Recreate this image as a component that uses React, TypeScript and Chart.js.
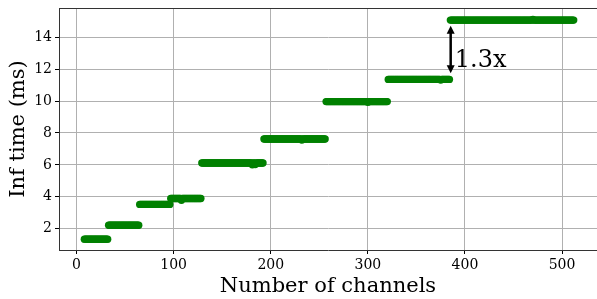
import React, { useEffect, useRef } from "react";
import { Chart, registerables } from "chart.js";

Chart.register(...registerables);

// Step segments (channel ranges) and their inference time levels (ms)
const segStarts = [8, 33, 65, 97, 129, 193, 257, 321, 385];
const segEnds = [32, 64, 96, 128, 192, 256, 320, 384, 512];
const segLevels = [1.34, 2.21, 3.52, 3.89, 6.12, 7.62, 9.97, 11.36, 15.08];
// A few visibly deviating measurements [channels, ms]
const deviations: [number, number][] = [
  [108, 3.78],
  [181, 6.0],
  [184, 6.02],
  [232, 7.56],
  [300, 9.93],
  [375, 11.32],
  [470, 15.12],
];

const xTicks = [0, 100, 200, 300, 400, 500];
const yTicks = [2, 4, 6, 8, 10, 12, 14];

const arrowX = 385.3;
const arrowFrom = 11.75;
const arrowTo = 14.72;
const ratioLabel = "1.3x";
const ratioLabelX = 389.5;
const ratioLabelY = 12.17;

function buildPoints() {
  const dev = new Map(deviations.map(([x, y]) => [x, y]));
  const pts: { x: number; y: number }[] = [];
  segStarts.forEach((s, i) => {
    for (let c = s; c <= segEnds[i]; c++) {
      pts.push({ x: c, y: dev.has(c) ? (dev.get(c) as number) : segLevels[i] });
    }
  });
  return pts;
}

const FONT = "'DejaVu Serif', serif";

function zeroPad(s: any) {
  s.paddingTop = 0;
  s.paddingBottom = 0;
  s.paddingLeft = 0;
  s.paddingRight = 0;
}

export default function App() {
  const ref = useRef<HTMLCanvasElement>(null);
  useEffect(() => {
    if (!ref.current) return;
    const annot = {
      id: "annot",
      afterDatasetsDraw(chart: any) {
        const { ctx, chartArea, scales } = chart;
        const xs = scales.x, ys = scales.y;
        ctx.save();
        // top spine
        ctx.strokeStyle = "#333";
        ctx.lineWidth = 1;
        ctx.beginPath();
        ctx.moveTo(chartArea.left, chartArea.top + 0.5);
        ctx.lineTo(chartArea.right, chartArea.top + 0.5);
        ctx.stroke();
        // double arrow
        const ax = xs.getPixelForValue(arrowX);
        const y1 = ys.getPixelForValue(arrowFrom);
        const y2 = ys.getPixelForValue(arrowTo);
        const hl = 8, hw = 4;
        ctx.strokeStyle = "#000";
        ctx.fillStyle = "#000";
        ctx.lineWidth = 2.5;
        ctx.beginPath();
        ctx.moveTo(ax, y1 - hl + 1);
        ctx.lineTo(ax, y2 + hl - 1);
        ctx.stroke();
        ctx.beginPath();
        ctx.moveTo(ax, y2);
        ctx.lineTo(ax - hw, y2 + hl);
        ctx.lineTo(ax + hw, y2 + hl);
        ctx.closePath();
        ctx.fill();
        ctx.beginPath();
        ctx.moveTo(ax, y1);
        ctx.lineTo(ax - hw, y1 - hl);
        ctx.lineTo(ax + hw, y1 - hl);
        ctx.closePath();
        ctx.fill();
        // label
        ctx.font = `24px ${FONT}`;
        ctx.textAlign = "left";
        ctx.textBaseline = "alphabetic";
        ctx.fillText(ratioLabel, xs.getPixelForValue(ratioLabelX), ys.getPixelForValue(ratioLabelY));
        ctx.restore();
      },
    };
    const chart = new Chart(ref.current, {
      type: "scatter",
      data: {
        datasets: [
          {
            data: buildPoints(),
            pointRadius: 3.7,
            pointHoverRadius: 3.7,
            pointBackgroundColor: "#008000",
            pointBorderWidth: 0,
            pointBorderColor: "#008000",
          },
        ],
      },
      options: {
        animation: false,
        responsive: false,
        devicePixelRatio: 1,
        layout: { autoPadding: false, padding: { left: 0, top: 8, right: 0, bottom: 0 } },
        plugins: { legend: { display: false }, tooltip: { enabled: false } },
        scales: {
          x: {
            type: "linear",
            min: -18.1,
            max: 536,
            afterBuildTicks: (s: any) => {
              s.ticks = xTicks.map((v) => ({ value: v }));
            },
            afterFit: (s: any) => {
              s.height = 49;
              zeroPad(s);
            },
            grid: { color: "#b0b0b0", lineWidth: 1, tickColor: "#000", tickLength: 4 },
            border: { color: "#333", width: 1 },
            ticks: { color: "#000", font: { family: FONT, size: 14 }, padding: 3, maxRotation: 0 },
            title: {
              display: true,
              text: "Number of channels",
              color: "#000",
              font: { family: FONT, size: 21 },
              padding: { top: 0, bottom: 0 },
            },
          },
          y: {
            type: "linear",
            min: 0.66,
            max: 15.84,
            afterBuildTicks: (s: any) => {
              s.ticks = yTicks.map((v) => ({ value: v }));
            },
            afterFit: (s: any) => {
              s.width = 59;
              zeroPad(s);
            },
            grid: { color: "#b0b0b0", lineWidth: 1, tickColor: "#000", tickLength: 4 },
            border: { color: "#333", width: 1 },
            ticks: { color: "#000", font: { family: FONT, size: 14 }, padding: 3 },
            title: {
              display: true,
              text: "Inf time (ms)",
              color: "#000",
              font: { family: FONT, size: 21 },
              padding: { top: 6, bottom: 0 },
            },
          },
        },
      },
      plugins: [annot],
    });
    return () => chart.destroy();
  }, []);
  return (
    <div style={{ position: "fixed", left: 0, top: 0, width: 597, height: 299, background: "#fff" }}>
      <canvas ref={ref} width={597} height={299} style={{ display: "block" }} />
    </div>
  );
}
